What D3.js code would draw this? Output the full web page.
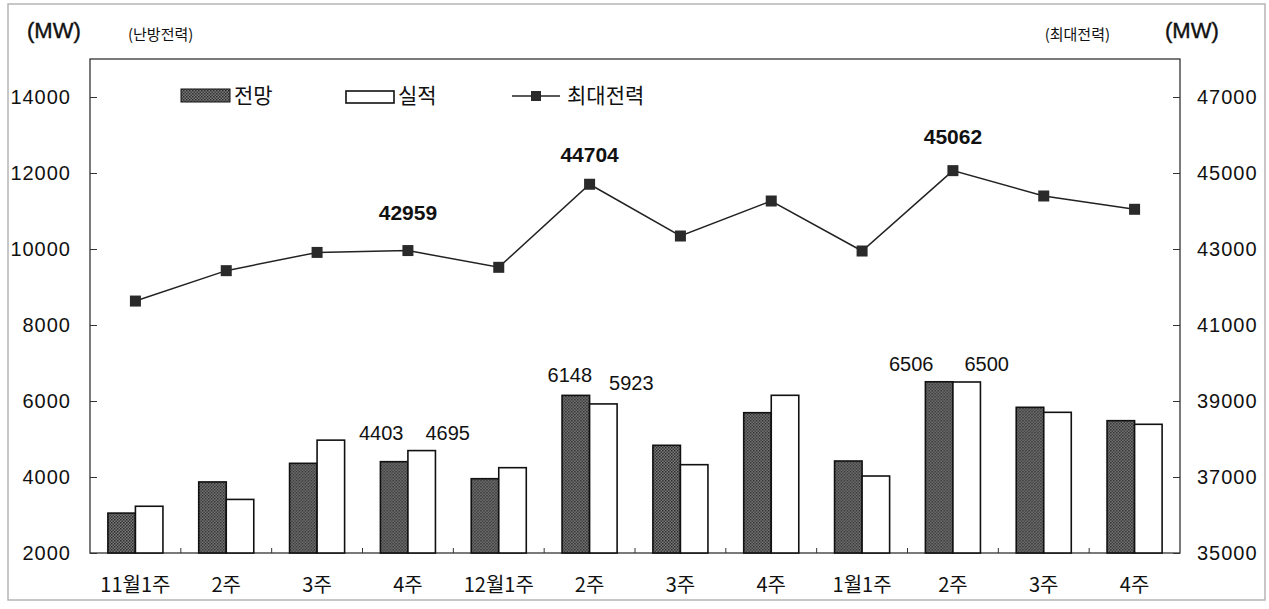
<!DOCTYPE html>
<html>
<head>
<meta charset="utf-8">
<script src="https://cdn.jsdelivr.net/npm/d3@7"></script>
<style>
  body { margin: 0; background: #fff; }
  text { font-family: "Liberation Sans", Arial, "Noto Sans CJK KR", sans-serif; fill: #111; }
  .kr { font-family: "Noto Sans CJK KR", "Liberation Sans", sans-serif; }
</style>
</head>
<body>
<div id="chart"></div>
<script>
// Chart data
const categories = ["11월1주", "2주", "3주", "4주", "12월1주", "2주 ", "3주 ", "4주 ", "1월1주", "2주  ", "3주  ", "4주  "];
const forecast = [3050, 3870, 4360, 4403, 3955, 6148, 4834, 5692, 4421, 6506, 5834, 5482];
const actual   = [3230, 3410, 4970, 4695, 4245, 5923, 4324, 6150, 4026, 6500, 5702, 5387];
const peak     = [41630, 42430, 42910, 42959, 42518, 44704, 43342, 44263, 42947, 45062, 44395, 44045];
const leftTicks  = [2000, 4000, 6000, 8000, 10000, 12000, 14000];
const rightTicks = [35000, 37000, 39000, 41000, 43000, 45000, 47000];

// Which values get a printed label (index, series)
const barLabels = [
  {i: 3, s: "forecast", dx: -13, dy: -22},
  {i: 3, s: "actual",   dx: 26,  dy: -11},
  {i: 5, s: "forecast", dx: -6,  dy: -13},
  {i: 5, s: "actual",   dx: 28,  dy: -14},
  {i: 9, s: "forecast", dx: -28, dy: -11},
  {i: 9, s: "actual",   dx: 20,  dy: -11}
];
const peakLabels = [{i: 3, dy: -31}, {i: 5, dy: -22}, {i: 9, dy: -27}];

const W = 1269, H = 609;
const margin = {top: 59, right: 89, bottom: 56, left: 90};

const svg = d3.select("#chart").append("svg")
    .attr("width", W)
    .attr("height", H);

// pattern for the "forecast" bars
const defs = svg.append("defs");
const pat = defs.append("pattern")
    .attr("id", "dots")
    .attr("width", 3).attr("height", 3)
    .attr("patternUnits", "userSpaceOnUse");
pat.append("rect").attr("width", 3).attr("height", 3).attr("fill", "#7a7a7a");
pat.append("rect").attr("width", 1.5).attr("height", 1.5).attr("fill", "#2c2c2c");
pat.append("rect").attr("x", 1.5).attr("y", 1.5).attr("width", 1.5).attr("height", 1.5).attr("fill", "#3a3a3a");

// outer frame
svg.append("rect")
    .attr("x", 8).attr("y", 4)
    .attr("width", 1257).attr("height", 596)
    .attr("fill", "none")
    .attr("stroke", "#b5b5b5")
    .attr("stroke-width", 1.5);

const x0 = margin.left, x1 = W - margin.right;
const yTop = margin.top, yBot = H - margin.bottom;

const x = d3.scaleBand().domain(categories).range([x0, x1]).padding(0);
const xSub = d3.scaleBand().domain(["forecast", "actual"]).range([0, x.bandwidth()])
    .paddingInner(0).paddingOuter(0.65);
const yL = d3.scaleLinear().domain([2000, 15000]).range([yBot, yTop]);
const yR = d3.scaleLinear().domain([35000, 48000]).range([yBot, yTop]);

// plot border
svg.append("rect")
    .attr("x", x0).attr("y", yTop)
    .attr("width", x1 - x0).attr("height", yBot - yTop)
    .attr("fill", "none")
    .attr("stroke", "#333")
    .attr("stroke-width", 1.3);

// Left axis
const gL = svg.append("g")
    .attr("transform", `translate(${x0},0)`)
    .call(d3.axisRight(yL).tickValues(leftTicks).tickSize(7).tickFormat(""));
gL.select(".domain").remove();
gL.selectAll("line").attr("stroke", "#333");
svg.append("g").selectAll("text")
  .data(leftTicks)
  .join("text")
    .attr("x", 71)
    .attr("y", d => yL(d) + 7)
    .attr("text-anchor", "end")
    .attr("font-size", 20)
    .attr("letter-spacing", 1)
    .text(d => d);

// Right axis
const gR = svg.append("g")
    .attr("transform", `translate(${x1},0)`)
    .call(d3.axisLeft(yR).tickValues(rightTicks).tickSize(7).tickFormat(""));
gR.select(".domain").remove();
gR.selectAll("line").attr("stroke", "#333");
svg.append("g").selectAll("text")
  .data(rightTicks)
  .join("text")
    .attr("x", 1197)
    .attr("y", d => yR(d) + 7)
    .attr("font-size", 20)
    .attr("letter-spacing", 1)
    .text(d => d);

// Bottom ticks at category boundaries
svg.append("g").selectAll("line")
  .data(categories.slice(1))
  .join("line")
    .attr("x1", d => x(d)).attr("x2", d => x(d))
    .attr("y1", yBot).attr("y2", yBot - 5)
    .attr("stroke", "#333");

// Category labels
svg.append("g").selectAll("text")
  .data(categories)
  .join("text")
    .attr("class", "kr")
    .attr("x", d => x(d) + x.bandwidth() / 2)
    .attr("y", 592)
    .attr("text-anchor", "middle")
    .attr("font-size", 20)
    .text(d => d.trim());

// Bars
const rows = categories.map((c, i) => ({c, forecast: forecast[i], actual: actual[i]}));
svg.append("g").selectAll("g")
  .data(rows)
  .join("g")
    .attr("transform", d => `translate(${x(d.c)},0)`)
  .selectAll("rect")
  .data(d => ["forecast", "actual"].map(k => ({k, v: d[k]})))
  .join("rect")
    .attr("x", d => xSub(d.k))
    .attr("y", d => yL(d.v))
    .attr("width", xSub.bandwidth())
    .attr("height", d => yBot - yL(d.v))
    .attr("fill", d => d.k === "forecast" ? "url(#dots)" : "#fff")
    .attr("stroke", "#111")
    .attr("stroke-width", 1.6);

// Bar value labels
svg.append("g").selectAll("text")
  .data(barLabels)
  .join("text")
    .attr("x", d => x(categories[d.i]) + xSub(d.s) + xSub.bandwidth() / 2 + d.dx)
    .attr("y", d => yL(d.s === "forecast" ? forecast[d.i] : actual[d.i]) + d.dy)
    .attr("text-anchor", "middle")
    .attr("font-size", 20)
    .text(d => d.s === "forecast" ? forecast[d.i] : actual[d.i]);

// Peak line
const cx = i => x(categories[i]) + x.bandwidth() / 2;
svg.append("path")
    .datum(peak)
    .attr("fill", "none")
    .attr("stroke", "#222")
    .attr("stroke-width", 1.5)
    .attr("d", d3.line().x((d, i) => cx(i)).y(d => yR(d)));

svg.append("g").selectAll("rect")
  .data(peak)
  .join("rect")
    .attr("x", (d, i) => cx(i) - 5.5)
    .attr("y", d => yR(d) - 5.5)
    .attr("width", 11).attr("height", 11)
    .attr("fill", "#2a2a2a");

svg.append("g").selectAll("text")
  .data(peakLabels)
  .join("text")
    .attr("x", d => cx(d.i))
    .attr("y", d => yR(peak[d.i]) + d.dy)
    .attr("text-anchor", "middle")
    .attr("font-size", 21)
    .attr("font-weight", "bold")
    .text(d => peak[d.i]);

// Header texts
svg.append("text").attr("x", 27).attr("y", 38).attr("font-size", 22).attr("stroke", "#111").attr("stroke-width", 0.4).text("(MW)");
svg.append("text").attr("class", "kr").attr("x", 128).attr("y", 40).attr("font-size", 15).text("(난방전력)");
svg.append("text").attr("class", "kr").attr("x", 1110).attr("y", 40).attr("text-anchor", "end").attr("font-size", 15).text("(최대전력)");
svg.append("text").attr("x", 1165).attr("y", 38).attr("font-size", 22).attr("stroke", "#111").attr("stroke-width", 0.4).text("(MW)");

// Legend
const lg = svg.append("g").attr("class", "kr");
lg.append("rect").attr("x", 181).attr("y", 89).attr("width", 49).attr("height", 13)
    .attr("fill", "url(#dots)").attr("stroke", "#111").attr("stroke-width", 1);
lg.append("text").attr("class", "kr").attr("x", 234).attr("y", 103).attr("font-size", 21).text("전망");
lg.append("rect").attr("x", 346).attr("y", 91).attr("width", 48).attr("height", 12)
    .attr("fill", "#fff").attr("stroke", "#111").attr("stroke-width", 1.6);
lg.append("text").attr("class", "kr").attr("x", 398).attr("y", 103).attr("font-size", 21).text("실적");
lg.append("line").attr("x1", 512).attr("x2", 560).attr("y1", 96).attr("y2", 96)
    .attr("stroke", "#222").attr("stroke-width", 1.5);
lg.append("rect").attr("x", 531).attr("y", 91).attr("width", 10).attr("height", 10).attr("fill", "#2a2a2a");
lg.append("text").attr("class", "kr").attr("x", 567).attr("y", 103).attr("font-size", 21).text("최대전력");
</script>
</body>
</html>
